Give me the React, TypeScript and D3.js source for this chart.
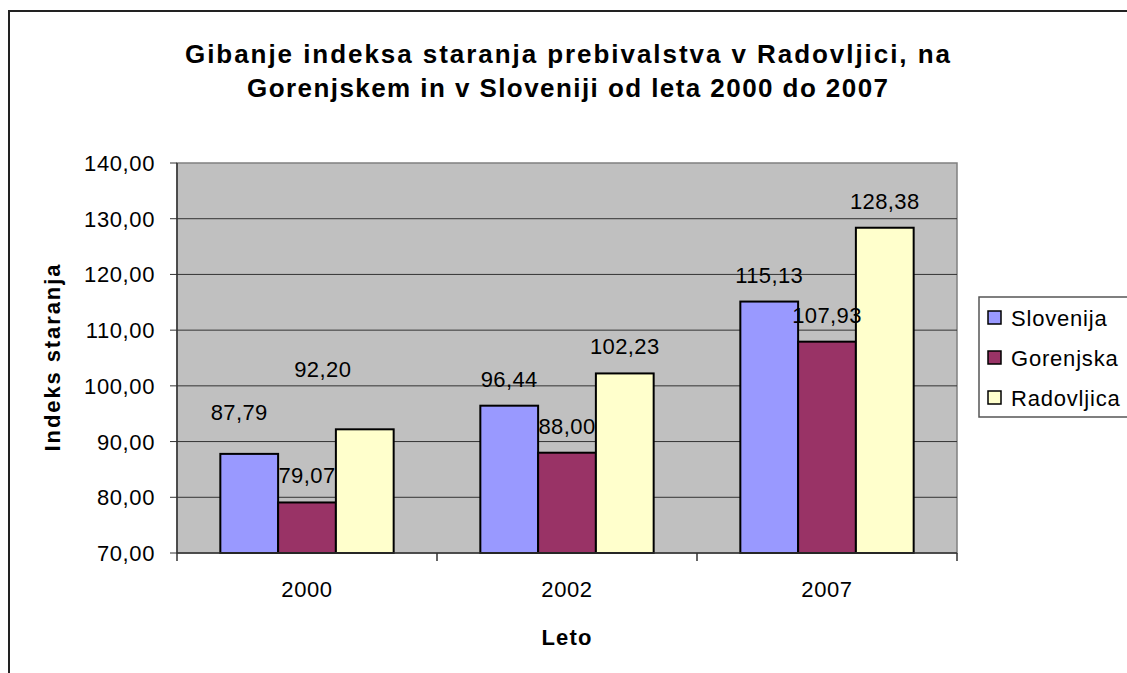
import React from "react";
import * as d3 from "d3";

const years = ["2000", "2002", "2007"];
const seriesNames = ["Slovenija", "Gorenjska", "Radovljica"];
const slovenija = [87.79, 96.44, 115.13];
const gorenjska = [79.07, 88.0, 107.93];
const radovljica = [92.2, 102.23, 128.38];
const seriesColors = ["#9999FF", "#993366", "#FFFFCC"];
const yTicks = [70, 80, 90, 100, 110, 120, 130, 140];
const titleLines = [
  "Gibanje indeksa staranja prebivalstva v Radovljici, na",
  "Gorenjskem in v Sloveniji od leta 2000 do 2007",
];
// manual label offsets (dx, dy) per series per year, as in the original
const labelDx = [[-10, 0, 0], [0, 0, 0], [-42, 0, 0]];
const labelDy = [[-15, 0, 0], [0, 0, 0], [-33, 0, 0]];

const FONT = "'Liberation Sans', Arial, sans-serif";

export default function App() {
  const W = 1127, H = 673;
  const plot = { x0: 177, x1: 957, y0: 163, y1: 553 };
  const values = [slovenija, gorenjska, radovljica];

  const x0 = d3.scaleBand().domain(years).range([plot.x0, plot.x1]).paddingInner(0).paddingOuter(0);
  const groupW = x0.bandwidth();
  const barW = groupW / 4.5;
  const x1 = d3.scaleBand().domain(seriesNames).range([barW * 0.75, barW * 0.75 + barW * 3]).padding(0);
  const y = d3.scaleLinear().domain([70, 140]).range([plot.y1, plot.y0]);
  const fmt = (v: number) => d3.format(".2f")(v).replace(".", ",");
  const titleLens = [765, 641];

  return (
    <svg width={W} height={H} style={{ position: "absolute", left: 0, top: 0, background: "#fff" }} fontFamily={FONT}>
      <rect x={0} y={0} width={W} height={H} fill="#fff" />
      <rect x={9} y={11} width={1300} height={900} fill="#fff" stroke="#222" strokeWidth={2} />
      {titleLines.map((t, i) => (
        <text
          key={i}
          x={567.5 - titleLens[i] / 2}
          y={63 + i * 34}
          fontSize={26}
          fontWeight="bold"
          textLength={titleLens[i]}
          lengthAdjust="spacing"
        >
          {t}
        </text>
      ))}

      <rect x={plot.x0} y={plot.y0} width={plot.x1 - plot.x0} height={plot.y1 - plot.y0} fill="#C0C0C0" stroke="#808080" strokeWidth={1.5} />
      {yTicks.map((t) => (
        <g key={t}>
          {t !== 70 && t !== 140 && (
            <line x1={plot.x0} x2={plot.x1} y1={y(t)} y2={y(t)} stroke="#333" strokeWidth={1} />
          )}
          <line x1={plot.x0 - 7} x2={plot.x0} y1={y(t)} y2={y(t)} stroke="#333" strokeWidth={1} />
          <text x={155} y={y(t) + 8} textAnchor="end" fontSize={22} letterSpacing={0.6} fill="#000">
            {fmt(t)}
          </text>
        </g>
      ))}
      {values.map((arr, si) =>
        arr.map((v, yi) => (
          <rect
            key={`${si}-${yi}`}
            x={(x0(years[yi]) as number) + (x1(seriesNames[si]) as number)}
            y={y(v)}
            width={barW}
            height={plot.y1 - y(v)}
            fill={seriesColors[si]}
            stroke="#000"
            strokeWidth={2}
          />
        ))
      )}
      <line x1={plot.x0} x2={plot.x0} y1={plot.y0} y2={plot.y1} stroke="#333" strokeWidth={1.5} />
      <line x1={plot.x0} x2={plot.x1} y1={plot.y1} y2={plot.y1} stroke="#333" strokeWidth={1.5} />
      {[0, 1, 2, 3].map((i) => (
        <line key={i} x1={plot.x0 + i * groupW} x2={plot.x0 + i * groupW} y1={plot.y1} y2={plot.y1 + 8} stroke="#333" strokeWidth={1.5} />
      ))}
      {years.map((yr) => (
        <text key={yr} x={(x0(yr) as number) + groupW / 2} y={597} textAnchor="middle" fontSize={22} letterSpacing={0.6}>
          {yr}
        </text>
      ))}
      {values.map((arr, si) =>
        arr.map((v, yi) => (
          <text
            key={`l${si}-${yi}`}
            x={(x0(years[yi]) as number) + (x1(seriesNames[si]) as number) + barW / 2 + labelDx[si][yi]}
            y={y(v) - 19 + labelDy[si][yi]}
            textAnchor="middle"
            fontSize={22}
            letterSpacing={0.4}
          >
            {fmt(v)}
          </text>
        ))
      )}
      <text x={567} y={645} textAnchor="middle" fontSize={22} fontWeight="bold" letterSpacing={1.2}>
        Leto
      </text>
      <text
        transform="translate(60,358) rotate(-90)"
        x={-93.5}
        y={0}
        fontSize={22}
        fontWeight="bold"
        textLength={187}
        lengthAdjust="spacing"
      >
        Indeks staranja
      </text>

      <rect x={979} y={297} width={300} height={120} fill="#fff" stroke="#555" strokeWidth={1.5} />
      {seriesNames.map((n, i) => (
        <g key={n}>
          <rect x={988} y={311 + i * 40} width={13} height={13} fill={seriesColors[i]} stroke="#000" strokeWidth={1.5} />
          <text x={1011} y={326 + i * 40} fontSize={22} letterSpacing={0.8}>
            {n}
          </text>
        </g>
      ))}
    </svg>
  );
}
